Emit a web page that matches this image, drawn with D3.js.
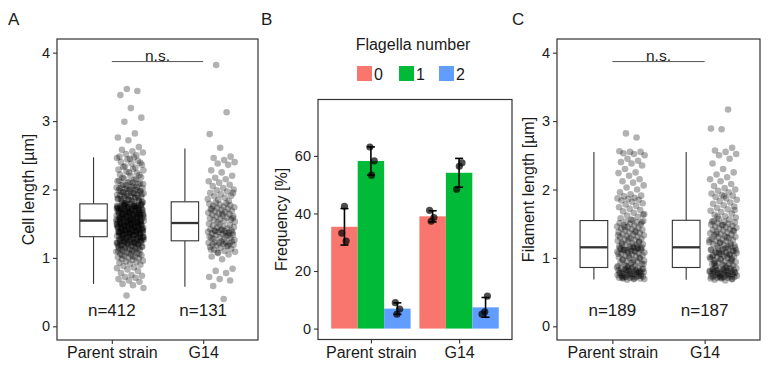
<!DOCTYPE html>
<html><head><meta charset="utf-8">
<script src="https://cdn.jsdelivr.net/npm/d3@7"></script>
<style>body{margin:0;background:#fff}svg{display:block;font-family:"Liberation Sans",Arial,Helvetica,sans-serif}</style>
</head><body><svg id="c" width="777" height="382"></svg>
<script>
const groups = ["Parent strain", "G14"];
const cellParent = [
0.45,0.56,0.60,0.62,0.65,0.67,0.69,0.71,0.72,0.74,0.75,0.78,0.81,0.83,0.85,0.86,0.88,0.90,0.91,0.93,0.94,0.95,0.96,0.97,0.98,0.99,
1.00,1.01,1.02,1.03,1.04,1.05,1.06,1.07,1.08,1.09,1.10,1.11,1.12,1.13,1.14,1.15,1.16,1.17,1.18,1.19,1.20,1.21,1.22,1.23,1.24,1.25,1.26,1.27,1.28,1.29,1.30,
1.02,1.04,1.06,1.08,1.10,1.12,1.14,1.16,1.18,1.19,1.20,1.21,1.22,1.23,1.24,1.25,1.26,1.27,1.28,1.29,1.30,
1.11,1.13,1.15,1.17,1.19,1.20,1.21,1.22,1.23,1.24,1.25,1.26,1.27,1.28,1.29,1.30,1.31,1.17,1.21,1.24,1.26,1.28,1.29,1.30,1.31,
1.32,1.33,1.34,1.35,1.36,1.37,1.38,1.39,1.40,1.41,1.42,1.43,1.44,1.45,1.46,1.47,1.48,1.49,1.50,1.51,1.52,1.53,1.54,
1.32,1.33,1.35,1.36,1.37,1.38,1.40,1.41,1.42,1.43,1.45,1.46,1.47,1.48,1.50,1.51,1.52,1.53,1.54,
1.31,1.33,1.34,1.35,1.36,1.38,1.39,1.40,1.42,1.43,1.44,1.46,1.47,1.49,1.50,1.51,1.53,1.54,
1.32,1.34,1.35,1.37,1.38,1.39,1.41,1.42,1.44,1.45,1.46,1.48,1.49,1.50,1.52,1.53,1.54,
1.33,1.34,1.36,1.37,1.39,1.40,1.41,1.43,1.44,1.45,1.47,1.48,1.49,1.51,1.52,1.53,
1.35,1.38,1.40,1.42,1.44,1.46,1.48,1.50,1.52,1.54,
1.55,1.56,1.57,1.58,1.59,1.60,1.61,1.62,1.63,1.64,1.65,1.66,1.67,1.68,1.69,1.70,1.71,1.72,1.73,1.74,1.75,1.76,1.77,1.78,1.79,
1.55,1.56,1.58,1.59,1.60,1.62,1.63,1.64,1.66,1.67,1.68,1.70,1.71,1.72,1.74,1.75,1.76,1.78,1.79,
1.55,1.57,1.58,1.59,1.61,1.62,1.63,1.65,1.66,1.67,1.69,1.70,1.71,1.73,1.74,1.75,1.77,1.78,
1.56,1.57,1.58,1.60,1.61,1.62,1.64,1.65,1.66,1.68,1.69,1.70,1.72,1.73,1.74,1.76,1.77,
1.55,1.57,1.59,1.61,1.63,1.65,1.67,1.69,1.71,1.73,1.75,1.77,1.79,
1.56,1.60,1.64,1.68,1.72,1.76,1.58,1.62,1.66,1.70,1.74,
1.80,1.81,1.82,1.83,1.84,1.85,1.86,1.87,1.88,1.89,1.90,1.91,1.92,1.93,1.94,1.95,1.96,1.97,1.98,1.99,2.00,
1.80,1.82,1.84,1.86,1.88,1.90,1.92,1.94,1.96,1.98,2.00,2.02,2.04,2.06,2.08,2.10,
1.81,1.83,1.85,1.87,1.89,1.91,1.93,1.95,1.97,1.99,2.01,2.03,2.05,2.07,2.09,2.11,2.13,2.15,
2.01,2.02,2.04,2.06,2.08,2.10,2.12,2.14,2.16,2.18,2.20,2.22,2.24,2.26,2.28,2.30,
2.17,2.21,2.25,2.29,2.32,2.34,2.36,2.38,2.40,2.42,2.44,2.46,2.47,2.33,2.39,2.45,2.48,2.50,
2.52,2.54,2.56,2.58,2.62,2.72,2.76,2.82,2.99,3.05,3.19,3.38,3.44,3.47];
const cellG14 = [
0.40,0.59,0.67,0.69,0.72,0.78,0.81,0.84,0.98,1.02,1.05,1.07,1.09,1.10,1.12,1.13,1.15,1.16,1.17,1.18,1.19,1.20,1.20,1.21,1.22,1.22,1.23,1.23,1.24,1.24,1.12,1.18,1.08,
1.26,1.27,1.28,1.29,1.30,1.31,1.32,1.33,1.34,1.35,1.36,1.37,1.38,1.38,1.39,1.40,1.40,1.41,1.42,1.43,1.44,1.45,1.46,1.47,1.48,1.49,1.50,1.36,1.39,1.37,1.41,1.29,1.33,
1.52,1.53,1.54,1.55,1.56,1.57,1.58,1.59,1.60,1.61,1.62,1.63,1.64,1.65,1.66,1.67,1.68,1.69,1.70,1.71,1.72,1.73,1.74,1.75,1.76,1.77,1.78,1.79,1.80,1.81,1.58,1.65,1.72,
1.83,1.85,1.86,1.88,1.90,1.91,1.93,1.95,1.97,1.99,2.00,2.02,2.05,2.07,2.10,2.12,2.15,2.17,2.20,2.25,2.28,2.36,2.38,2.40,2.43,2.46,2.48,2.61,2.81,3.13,3.82,1.95];
const filParent = [
0.68,0.69,0.69,0.70,0.70,0.71,0.71,0.72,0.72,0.73,0.73,0.74,0.74,0.75,0.75,0.76,0.76,0.77,0.77,0.78,0.78,0.79,0.79,0.80,0.80,0.81,0.81,0.82,0.82,0.83,0.83,0.84,0.84,0.85,0.85,0.86,0.70,0.72,0.74,0.76,0.78,0.80,0.82,0.84,0.86,0.71,0.79,
0.87,0.88,0.89,0.90,0.91,0.92,0.93,0.94,0.95,0.96,0.97,0.98,0.99,1.00,1.01,1.02,1.03,1.04,1.05,1.06,1.07,1.08,1.09,1.10,1.11,1.12,1.13,1.14,1.15,0.88,0.91,0.94,0.97,1.00,1.03,1.06,1.09,1.12,1.15,1.10,1.13,1.14,1.11,1.08,1.15,1.12,1.14,
1.16,1.17,1.18,1.19,1.20,1.21,1.22,1.23,1.24,1.25,1.26,1.27,1.28,1.29,1.30,1.31,1.32,1.33,1.34,1.35,1.36,1.37,1.38,1.39,1.40,1.41,1.42,1.43,1.44,1.45,1.46,1.47,1.48,1.49,1.50,1.51,1.52,1.53,1.54,1.17,1.20,1.24,1.28,1.33,1.38,1.45,1.52,
1.56,1.58,1.60,1.62,1.64,1.66,1.68,1.70,1.72,1.74,1.76,1.78,1.80,1.82,1.84,1.85,1.86,1.87,1.88,1.90,1.91,1.93,1.96,2.00,2.03,2.06,2.10,2.12,2.15,2.20,2.24,2.25,2.30,2.35,2.38,2.40,2.42,2.45,2.50,2.52,2.53,2.55,2.55,2.56,2.76,2.82,1.63,1.55];
const filG14 = [
0.67,0.68,0.69,0.70,0.70,0.71,0.71,0.72,0.72,0.73,0.73,0.74,0.74,0.75,0.75,0.76,0.76,0.77,0.77,0.78,0.78,0.79,0.79,0.80,0.80,0.81,0.81,0.82,0.82,0.83,0.83,0.84,0.84,0.85,0.85,0.86,0.69,0.71,0.73,0.75,0.77,0.79,0.81,0.83,0.85,0.72,0.80,
0.87,0.88,0.89,0.90,0.91,0.92,0.93,0.94,0.95,0.96,0.97,0.98,0.99,1.00,1.01,1.02,1.03,1.04,1.05,1.06,1.07,1.08,1.09,1.10,1.11,1.12,1.13,1.14,1.15,0.89,0.92,0.95,0.98,1.01,1.04,1.07,1.10,1.13,1.02,1.05,1.08,1.11,1.14,0.93,0.99,1.06,1.12,
1.16,1.17,1.18,1.19,1.20,1.21,1.22,1.23,1.24,1.25,1.26,1.27,1.28,1.29,1.30,1.31,1.32,1.33,1.34,1.35,1.36,1.37,1.38,1.39,1.40,1.41,1.42,1.43,1.44,1.45,1.46,1.47,1.48,1.49,1.50,1.51,1.52,1.53,1.54,1.18,1.22,1.26,1.30,1.35,1.40,1.48,1.53,
1.56,1.57,1.59,1.61,1.63,1.65,1.67,1.69,1.71,1.73,1.75,1.77,1.79,1.81,1.83,1.85,1.87,1.89,1.91,1.92,1.94,1.96,1.98,2.00,2.02,2.05,2.08,2.12,2.15,2.18,2.22,2.25,2.30,2.38,2.45,2.50,2.52,2.55,2.57,2.61,2.88,2.89,3.17,1.60,1.70,1.90];
const cellN = [412, 131];
const filN = [189, 187];
// [lower whisker, Q1, median, Q3, upper whisker]
const cellBox = [[0.62,1.31,1.545,1.79,2.47],[0.58,1.25,1.51,1.82,2.60]];
const filBox = [[0.686,0.86,1.155,1.546,2.55],[0.68,0.86,1.155,1.55,2.55]];
const lengthTicks = [0,1,2,3,4];
const flagellaLevels = ["0","1","2"];
// replicate frequencies [%] per flagella number
const freqParent = [[42.5,33.2,30.4],[63.1,58.3,53.3],[9.0,6.8,5.0]];
const freqG14 = [[41.1,38.6,37.3],[57.6,56.4,48.4],[11.3,5.8,5.0]];
const freqTicks = [0,20,40,60];
const flagColors = ["#F8766D","#00BA38","#619CFF"];
const sigLabel = "n.s.";

const svg = d3.select("#c");
const axisCol = "#333333";
const textCol = "#1a1a1a";
const fmt = d3.format("d");

function styleAxis(g, fs) {
  g.select(".domain").remove();
  g.selectAll(".tick line").attr("stroke", axisCol).attr("stroke-width", 1.1);
  g.selectAll(".tick text").attr("fill", textCol).attr("font-size", fs).attr("font-family", null);
}
function jit(i, off) { const f = (i * 0.6180339887 + off) % 1; return f * 2 - 1; }

function boxPanel(cfg) {
  const g = svg.append("g");
  const x = d3.scaleLinear().domain([0.4, 2.6]).range([cfg.x0, cfg.x1]);
  const y = d3.scaleLinear().domain([-0.2, 4.2]).range([cfg.y1, cfg.y0]);
  const bw = 0.3;
  cfg.box.forEach((b, i) => {
    const cx = x(i + 1 - 0.2);
    const left = x(i + 1 - 0.2 - bw / 2), right = x(i + 1 - 0.2 + bw / 2);
    g.append("line").attr("x1", cx).attr("x2", cx).attr("y1", y(b[0])).attr("y2", y(b[1])).attr("stroke", axisCol).attr("stroke-width", 1.1);
    g.append("line").attr("x1", cx).attr("x2", cx).attr("y1", y(b[3])).attr("y2", y(b[4])).attr("stroke", axisCol).attr("stroke-width", 1.1);
    g.append("rect").attr("x", left).attr("y", y(b[3])).attr("width", right - left).attr("height", y(b[1]) - y(b[3]))
      .attr("fill", "#fff").attr("stroke", axisCol).attr("stroke-width", 1.1);
    g.append("line").attr("x1", left).attr("x2", right).attr("y1", y(b[2])).attr("y2", y(b[2])).attr("stroke", axisCol).attr("stroke-width", 2.3);
  });
  cfg.data.forEach((arr, gi) => {
    g.append("g").selectAll("circle").data(arr).join("circle")
      .attr("cx", (d, i) => x(gi + 1 + 0.2 + 0.15 * jit(i, 0.37 + gi * 0.21)))
      .attr("cy", d => y(d)).attr("r", 3.3).attr("fill", "#000").attr("fill-opacity", 0.3);
  });
  g.append("line").attr("x1", x(1)).attr("x2", x(2)).attr("y1", y(3.87)).attr("y2", y(3.87)).attr("stroke", "#555").attr("stroke-width", 1);
  g.append("text").attr("x", x(1.5)).attr("y", y(3.87) - 1).attr("text-anchor", "middle").attr("font-size", 15.5).attr("fill", textCol).text(sigLabel);
  cfg.n.forEach((n, i) => {
    g.append("text").attr("x", x(i + 1)).attr("y", y(0.24)).attr("dy", "0.35em").attr("text-anchor", "middle")
      .attr("font-size", 17).attr("fill", textCol).text("n=" + n);
  });
  g.append("rect").attr("x", cfg.x0).attr("y", cfg.y0).attr("width", cfg.x1 - cfg.x0).attr("height", cfg.y1 - cfg.y0)
    .attr("fill", "none").attr("stroke", axisCol).attr("stroke-width", 1.2);
  const ya = g.append("g").attr("transform", `translate(${cfg.x0},0)`).call(d3.axisLeft(y).tickValues(lengthTicks).tickFormat(fmt).tickSize(4).tickPadding(3));
  styleAxis(ya, 14.5);
  const xa = g.append("g").attr("transform", `translate(0,${cfg.y1})`).call(d3.axisBottom(x).tickValues([1, 2]).tickFormat(d => groups[d - 1]).tickSize(4).tickPadding(3));
  styleAxis(xa, 16);
  g.append("text").attr("transform", `translate(${cfg.tx},${(cfg.y0 + cfg.y1) / 2}) rotate(-90)`).attr("text-anchor", "middle")
    .attr("font-size", 16).attr("fill", textCol).text(cfg.title);
  svg.append("text").attr("x", cfg.lx).attr("y", 25).attr("font-size", 17).attr("fill", textCol).text(cfg.letter);
}

boxPanel({x0: 57, x1: 258, y0: 39, y1: 340, data: [cellParent, cellG14], box: cellBox, n: cellN, title: "Cell length [µm]", tx: 34, letter: "A", lx: 8});
boxPanel({x0: 557, x1: 760, y0: 39, y1: 340, data: [filParent, filG14], box: filBox, n: filN, title: "Filament length [µm]", tx: 534, letter: "C", lx: 512});

(function () {
  const x0 = 318, x1 = 512, y0 = 99.5, y1 = 339.5;
  const g = svg.append("g");
  const x = d3.scaleLinear().domain([0.4, 2.6]).range([x0, x1]);
  const y = d3.scaleLinear().domain([-3.8, 79.6]).range([y1, y0]);
  const bw = 0.3;
  [freqParent, freqG14].forEach((grp, gi) => {
    grp.forEach((reps, k) => {
      const c = gi + 1 + (k - 1) * bw;
      const m = d3.mean(reps), sd = d3.deviation(reps);
      g.append("rect").attr("x", x(c - bw / 2)).attr("y", y(m)).attr("width", x(c + bw / 2) - x(c - bw / 2)).attr("height", y(0) - y(m)).attr("fill", flagColors[k]);
      const cx = x(c);
      g.append("line").attr("x1", cx).attr("x2", cx).attr("y1", y(m - sd)).attr("y2", y(m + sd)).attr("stroke", "#000").attr("stroke-width", 1.6);
      [m - sd, m + sd].forEach(v => g.append("line").attr("x1", cx - 4).attr("x2", cx + 4).attr("y1", y(v)).attr("y2", y(v)).attr("stroke", "#000").attr("stroke-width", 1.6));
      g.append("g").selectAll("circle").data(reps).join("circle")
        .attr("cx", (d, i) => x(c + 0.04 * jit(i + k * 3 + gi * 9, 0.5)))
        .attr("cy", d => y(d)).attr("r", 3.6).attr("fill", "#000").attr("fill-opacity", 0.7);
    });
  });
  g.append("rect").attr("x", x0).attr("y", y0).attr("width", x1 - x0).attr("height", y1 - y0)
    .attr("fill", "none").attr("stroke", axisCol).attr("stroke-width", 1.2);
  const ya = g.append("g").attr("transform", `translate(${x0},0)`).call(d3.axisLeft(y).tickValues(freqTicks).tickFormat(fmt).tickSize(4).tickPadding(3));
  styleAxis(ya, 14.5);
  const xa = g.append("g").attr("transform", `translate(0,${y1})`).call(d3.axisBottom(x).tickValues([1, 2]).tickFormat(d => groups[d - 1]).tickSize(4).tickPadding(3));
  styleAxis(xa, 16);
  g.append("text").attr("transform", `translate(287,${(y0 + y1) / 2}) rotate(-90)`).attr("text-anchor", "middle")
    .attr("font-size", 16).attr("fill", textCol).text("Frequency [%]");
  svg.append("text").attr("x", 261).attr("y", 25).attr("font-size", 17).attr("fill", textCol).text("B");
  svg.append("text").attr("x", 413).attr("y", 50).attr("text-anchor", "middle").attr("font-size", 16).attr("fill", textCol).text("Flagella number");
  const keyX = [357, 399, 439];
  flagellaLevels.forEach((lv, k) => {
    svg.append("rect").attr("x", keyX[k]).attr("y", 66).attr("width", 15).attr("height", 15).attr("fill", flagColors[k]);
    svg.append("text").attr("x", keyX[k] + 17).attr("y", 79.5).attr("font-size", 16).attr("fill", textCol).text(lv);
  });
})();
</script>
</body></html>
